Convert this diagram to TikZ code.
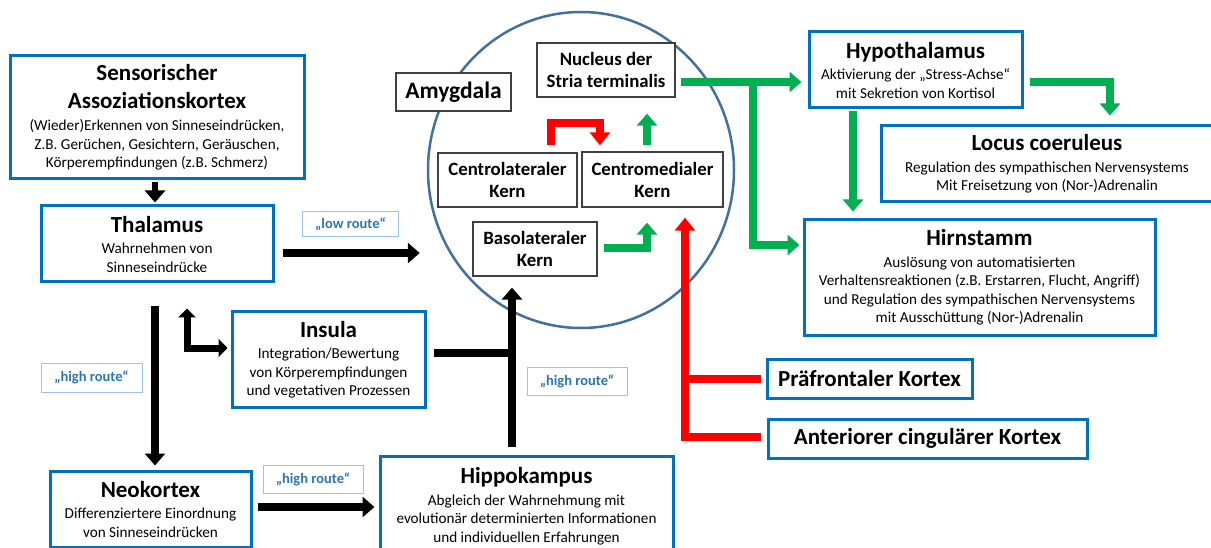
\documentclass[tikz,border=0pt]{standalone}
\usepackage{fontspec}
\setmainfont{Carlito}
\usetikzlibrary{arrows.meta,calc,shapes.geometric}
\definecolor{boxblue}{HTML}{0070C0}
\definecolor{lblblue}{HTML}{9DC3E6}
\definecolor{lbltext}{HTML}{2E75B6}
\definecolor{circ}{HTML}{41719C}
\definecolor{grn}{HTML}{00B050}
\definecolor{rd}{HTML}{FF0000}
\definecolor{grayb}{HTML}{404040}
\newcommand\tfont{\fontsize{23}{27}\selectfont\bfseries}
\newcommand\afont{\fontsize{23.5}{27}\selectfont\bfseries}
\newcommand\bfnt{\fontsize{15.2}{18.5}\selectfont\lineskiplimit=-40pt\relax}
\newcommand\nfont{\fontsize{18.8}{22}\selectfont\bfseries\lineskiplimit=-40pt\relax}
\newcommand\lfont{\fontsize{14.5}{18}\selectfont\bfseries}
\begin{document}
\begin{tikzpicture}[x=1pt,y=-1pt,
  bbox/.style={draw=boxblue, line width=3pt, fill=white, inner sep=0pt, align=center, font=\bfnt},
  gbox/.style={draw=grayb, line width=1.3pt, fill=white, inner sep=0pt, align=center, font=\nfont},
  lbl/.style={draw=lblblue, line width=1pt, fill=white, inner sep=0pt, text=lbltext, font=\lfont},
  blk/.style={line width=8pt, black, line join=miter, -{Triangle[width=20pt,length=12pt]}},
  blkline/.style={line width=8pt, black, line join=miter},
  blks/.style={line width=7pt, black, line join=miter},
  garrow/.style={line width=8pt, grn, line join=miter, -{Triangle[width=20pt,length=12pt]}},
  rarrow/.style={line width=8pt, rd, line join=miter, -{Triangle[width=20pt,length=13pt]}},
  rline/.style={line width=8pt, rd}]
\useasboundingbox (0,0) rectangle (1211,548);
\fill[white] (0,0) rectangle (1211,548);
\clip (0,0) rectangle (1211,548);

% amygdala circle
\node[ellipse, draw=circ, line width=2.5pt, minimum width=306pt, minimum height=316pt, inner sep=0pt] (amyg) at (581,170) {};

% blue boxes
\node[bbox, minimum width=294pt, minimum height=123pt] (sensor) at (157,117.5)
  {{\tfont Sensorischer}\\[9.5pt]{\tfont Assoziationskortex}\\[3.5pt](Wieder)Erkennen von Sinneseindrücken,\\Z.B. Gerüchen, Gesichtern, Geräuschen,\\Körperempfindungen (z.B. Schmerz)};
\node[bbox, minimum width=232pt, minimum height=76pt] (thal) at (157,244)
  {{\tfont Thalamus}\\[3pt]Wahrnehmen von\\Sinneseindrücke};
\node[bbox, minimum width=193pt, minimum height=95pt] (insula) at (328.5,359.5)
  {{\tfont Insula}\\[3pt]Integration/Bewertung\\von Körperempfindungen\\und vegetativen Prozessen};
\node[bbox, minimum width=201pt, minimum height=76pt] (neo) at (150.5,509)
  {{\tfont Neokortex}\\[3pt]Differenziertere Einordnung\\von Sinneseindrücken};
\node[bbox, minimum width=293pt, minimum height=100pt] (hippo) at (526.5,506)
  {{\tfont Hippokampus}\\[3pt]Abgleich der Wahrnehmung mit\\evolutionär determinierten Informationen\\und individuellen Erfahrungen};
\node[bbox, minimum width=213pt, minimum height=76pt] (hypo) at (915.5,70)
  {{\tfont Hypothalamus}\\[3pt]Aktivierung der „Stress-Achse“\\mit Sekretion von Kortisol};
\node[bbox, minimum width=332pt, minimum height=76pt] (locus) at (1047,164)
  {{\tfont Locus coeruleus}\\[3pt]Regulation des sympathischen Nervensystems\\Mit Freisetzung von (Nor-)Adrenalin};
\node[bbox, minimum width=351pt, minimum height=115pt] (hirn) at (979.5,277.5)
  {{\tfont Hirnstamm}\\[3pt]Auslösung von automatisierten\\Verhaltensreaktionen (z.B. Erstarren, Flucht, Angriff)\\und Regulation des sympathischen Nervensystems\\mit Ausschüttung (Nor-)Adrenalin};
\node[bbox, minimum width=205pt, minimum height=39pt] (pfc) at (869.5,378.5)
  {{\tfont Präfrontaler Kortex}};
\node[bbox, minimum width=319pt, minimum height=39pt] (acc) at (927.5,438.5)
  {{\tfont Anteriorer cingulärer Kortex}};

% gray boxes inside amygdala
\node[gbox, minimum width=115pt, minimum height=38pt] (amylbl) at (453.5,92) {{\afont Amygdala}};
\node[gbox, minimum width=138pt, minimum height=54pt] (nst) at (606,70) {Nucleus der\\Stria terminalis};
\node[gbox, minimum width=139pt, minimum height=54pt] (cl) at (507.5,180) {Centrolateraler\\Kern};
\node[gbox, minimum width=141pt, minimum height=55pt] (cm) at (652.5,179.5) {Centromedialer\\Kern};
\node[gbox, minimum width=124pt, minimum height=54pt] (bl) at (535,249) {Basolateraler\\Kern};

% route labels
\node[lbl, minimum width=96pt, minimum height=25pt] (lr) at (350.5,224.5) {„low route“};
\node[lbl, minimum width=101pt, minimum height=29pt] (hr1) at (91.5,377.5) {„high route“};
\node[lbl, minimum width=100pt, minimum height=28pt] (hr2) at (313,479) {„high route“};
\node[lbl, minimum width=100pt, minimum height=28pt] (hr3) at (577,381) {„high route“};

% black connectors
\draw[line width=6pt, black, -{Triangle[width=20pt,length=12pt]}] ($(sensor.south)+(-2,2)$) -- ($(thal.north)+(-2,-2)$);
\draw[blk] ($(thal.east)+(8,9)$) -- ($(amyg.west)+(-7,83)$);
\draw[blk] ($(thal.south)+(-2,23)$) -- ($(neo.north)+(4.5,-4)$);
\draw[blks, {Triangle[width=17pt,length=9pt]}-{Triangle[width=18pt,length=9pt]}] ($(thal.south)+(30,25)$) |- ($(insula.west)+(-3,-11.5)$);
\draw[blk] ($(neo.east)+(5,-2)$) -- ($(hippo.west)+(-4,1)$);
\coordinate (hj) at (512,353);
\draw[blkline] ($(insula.east)+(7,-6.5)$) -- ($(hj)+(4,0)$);
\draw[blk] ($(hippo.north)+(-14.5,-8)$) -- ($(bl.south)+(-23,11)$);

% inside amygdala
\draw[rarrow] ($(cl.north)+(43.5,-7)$) |- ($(cm.north)+(-52.5,-28)$) -- ($(cm.north)+(-52.5,-6)$);
\draw[garrow] ($(cm.north)+(-5.5,-6)$) -- ($(nst.south)+(41,16)$);
\draw[garrow] ($(bl.east)+(6,-1)$) -| ($(cm.south)+(-5.5,15)$);

% red from cortex
\draw[rline] ($(pfc.west)+(-5,0)$) -- (681,378.5);
\draw[rarrow] ($(acc.west)+(-6,-1.5)$) -| ($(cm.south)+(32.5,10)$);

% green outputs
\draw[garrow] ($(nst.east)+(5,12)$) -- ($(hypo.west)+(-6,12)$);
\coordinate (gb) at (753,78);
\draw[garrow] (gb) |- ($(hirn.west)+(-3,-32.5)$);
\draw[garrow] ($(hypo.south)+(-62.5,2)$) -- ($(hirn.north)+(-126.5,-7)$);
\draw[garrow] ($(hypo.east)+(6,12)$) -| ($(locus.north)+(63,-9)$);
\end{tikzpicture}
\end{document}
